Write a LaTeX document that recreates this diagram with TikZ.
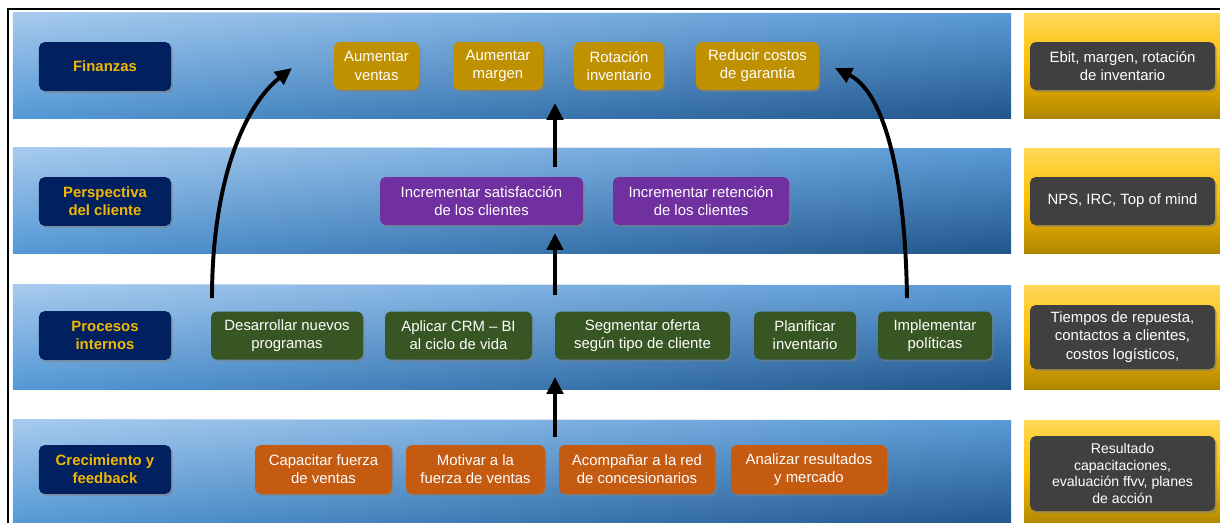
\documentclass[tikz,border=0pt]{standalone}
\usepackage{fontspec}
\setmainfont{Liberation Sans}
\usepackage{tikz}
\usetikzlibrary{arrows.meta,shadows,fadings,positioning}

\definecolor{navybox}{HTML}{002060}
\definecolor{labelgold}{HTML}{F2B705}
\definecolor{goldbox}{HTML}{BF9000}
\definecolor{purplebox}{HTML}{7030A0}
\definecolor{greenbox}{HTML}{375623}
\definecolor{orangebox}{HTML}{C55A11}
\definecolor{greybox}{HTML}{404040}
% blue band: right side and left side tones
\definecolor{bandrtop}{HTML}{5A9AD6}
\definecolor{bandrbot}{HTML}{22568B}
\definecolor{bandltop}{HTML}{A8CBEE}
\definecolor{bandlbot}{HTML}{5599D6}
\definecolor{kpitop}{HTML}{FFD859}
\definecolor{kpimid}{HTML}{FCBE00}
\definecolor{kpibot}{HTML}{B08600}

\tikzstyle{box}=[rounded corners=4pt, align=center, inner sep=0pt, text=white,
  font=\fontsize{10.6}{12.9}\selectfont,
  drop shadow={shadow xshift=1.2pt, shadow yshift=-1.4pt, opacity=0.55}]
\tikzstyle{persp}=[box, fill=navybox, text=labelgold, font=\fontsize{10.6}{12.9}\selectfont\bfseries,
  minimum width=3.3cm, minimum height=1.22cm]
\tikzstyle{uparrow}=[draw, line width=3.4pt, -{Triangle[length=12pt, width=11.5pt]}]
\tikzstyle{bendarrow}=[draw, line width=2.8pt, -{Triangle[length=12pt, width=11pt]}]
\tikzset{boxw/.style={minimum width=#1*0.025cm}, boxh/.style={minimum height=#1*0.025cm}}

\begin{document}
\begin{tikzpicture}[x=0.025cm, y=-0.025cm]

    % Canvas and outer frame
    \useasboundingbox (0,0) rectangle (1220,522);
    \clip (0,0) rectangle (1220,522);
    \draw[line width=1.4pt] (8,9) rectangle (1240,540);

    % Bands: perspectives (blue) and indicators (yellow)
    \foreach \a/\b in {13/118, 148/253, 285/389, 420/525} {
        \shade[top color=bandrtop, bottom color=bandrbot] (13,\a) rectangle (1011,\b);
        \shade[top color=bandltop, bottom color=bandlbot, path fading=east] (13,\a) rectangle (1011,\b);
        \shade[top color=kpitop, bottom color=kpibot, middle color=kpimid] (1024,\a) rectangle (1230,\b);
    }

    % Perspective labels
    \foreach \y/\name/\txt in {66.5/fin/Finanzas, 201.5/cli/{Perspectiva\\del cliente},
                               335.5/pro/{Procesos\\internos}, 469.5/cre/{Crecimiento y\\feedback}} {
        \node[persp] (\name) at (105,\y) {\txt};
    }

    % Finanzas
    \foreach \x/\w/\name/\txt in {376.5/85/aven/{Aumentar\\ventas}, 498/90/amar/{Aumentar\\margen},
                                  619/90/rinv/{Rotación\\inventario}, 757.5/123/rgar/{Reducir costos\\de garantía}} {
        \node[box, fill=goldbox, boxw=\w, boxh=48] (\name) at (\x,66) {\txt};
    }

    % Perspectiva del cliente
    \node[box, fill=purplebox, boxw=203, boxh=48] (isat) at (481.5,201) {Incrementar satisfacción\\de los clientes};
    \node[box, fill=purplebox, boxw=176, boxh=48] (iret) at (701,201) {Incrementar retención\\de los clientes};

    % Procesos internos
    \foreach \x/\w/\name/\txt in {287/152/dnp/{Desarrollar nuevos\\programas}, 458.5/147/crm/{Aplicar CRM – BI\\al ciclo de vida},
                                  642.5/175/seg/{Segmentar oferta\\según tipo de cliente}, 805/102/pinv/{Planificar\\inventario},
                                  935/114/ipol/{Implementar\\políticas}} {
        \node[box, fill=greenbox, boxw=\w, boxh=48] (\name) at (\x,335.5) {\txt};
    }

    % Crecimiento y feedback
    \foreach \x/\w/\name/\txt in {323.5/137/cfv/{Capacitar fuerza\\de ventas}, 475.5/139/mfv/{Motivar a la\\fuerza de ventas},
                                  637/156/arc/{Acompañar a la red\\de concesionarios}, 809/156/arm/{Analizar resultados\\y mercado}} {
        \node[box, fill=orangebox, boxw=\w, boxh=49] (\name) at (\x,469.5) {\txt};
    }

    % Indicators
    \node[box, fill=greybox, boxw=185, boxh=48] (kfin) at (1122.5,66) {Ebit, margen, rotación\\de inventario};
    \node[box, fill=greybox, boxw=185, boxh=48] (kcli) at (1122.5,201) {NPS, IRC, Top of mind};
    \node[box, fill=greybox, boxw=185, boxh=64] (kpro) at (1122.5,337) {Tiempos de repuesta,\\contactos a clientes,\\costos logísticos,};
    \node[box, fill=greybox, boxw=185, boxh=75, font=\fontsize{10}{11.8}\selectfont] (kcre) at (1122.5,473.5)
        {Resultado\\capacitaciones,\\evaluación ffvv, planes\\de acción};

    % Cause-effect arrows
    \coordinate (up1s) at (555,167);  \coordinate (up1e) at (555,103);
    \coordinate (up2s) at (555,295);  \coordinate (up2e) at (555,233);
    \coordinate (up3s) at (555,437);  \coordinate (up3e) at (555,377);
    \draw[uparrow] (up1s) -- (up1e);
    \draw[uparrow] (up2s) -- (up2e);
    \draw[uparrow] (up3s) -- (up3e);

    \coordinate (lbs) at (212,298);  \coordinate (lbe) at (292,68);
    \coordinate (rbs) at (907,298);  \coordinate (rbe) at (835,68);
    \draw[bendarrow] (lbs) .. controls (212,180) and (245,105) .. (lbe);
    \draw[bendarrow] (rbs) .. controls (905,160) and (880,90) .. (rbe);

\end{tikzpicture}
\end{document}
